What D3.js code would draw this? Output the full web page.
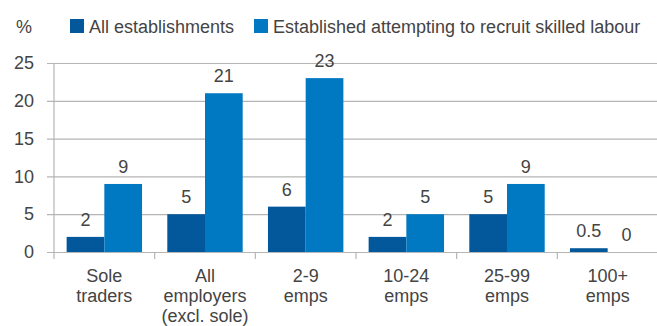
<!DOCTYPE html>
<html>
<head>
<meta charset="utf-8">
<script src="https://cdn.jsdelivr.net/npm/d3@7/dist/d3.min.js"></script>
<style>
  html, body { margin: 0; padding: 0; background: #fff; }
  svg { display: block; font-family: "Liberation Sans", Arial, sans-serif; }
</style>
</head>
<body>
<svg id="chart" width="657" height="326"></svg>
<script>
// Share of establishments, by size band (%)
const categories = [
  ["Sole", "traders"],
  ["All", "employers", "(excl. sole)"],
  ["2-9", "emps"],
  ["10-24", "emps"],
  ["25-99", "emps"],
  ["100+", "emps"]
];
const seriesNames = ["All establishments", "Established attempting to recruit skilled labour"];
const allEstablishments = [2, 5, 6, 2, 5, 0.5];
const recruitingSkilled = [9, 21, 23, 5, 9, 0];
const valueLabels = [
  ["2", "5", "6", "2", "5", "0.5"],
  ["9", "21", "23", "5", "9", "0"]
];
const yTicks = [0, 5, 10, 15, 20, 25];
const colors = ["#03589b", "#0079c2"];

(function () {
  const svg = d3.select("#chart");
  const textColor = "#444444";
  const fontSize = 18;

  const plotLeft = 54, plotRight = 658, plotTop = 63, plotBottom = 252;

  const x0 = d3.scaleBand()
    .domain(d3.range(categories.length))
    .range([plotLeft, plotRight])
    .paddingInner(0)
    .paddingOuter(0);

  const x1 = d3.scaleBand()
    .domain([0, 1])
    .range([0, x0.bandwidth()])
    .paddingInner(0)
    .paddingOuter(0.335);

  const y = d3.scaleLinear().domain([0, 25]).range([plotBottom, plotTop]);

  // Horizontal gridlines with left ticks
  const yAxis = d3.axisLeft(y)
    .tickValues(yTicks)
    .tickSize(-(657 - plotLeft))
    .tickSizeOuter(0);

  const gy = svg.append("g")
    .attr("transform", `translate(${plotLeft},0)`)
    .call(yAxis);
  gy.select(".domain").remove();
  gy.selectAll(".tick line")
    .attr("x1", -7)
    .attr("stroke", "#b5b5b5")
    .attr("stroke-width", 1.2);
  gy.selectAll(".tick text")
    .attr("fill", textColor)
    .attr("font-size", fontSize)
    .attr("font-family", "Liberation Sans, Arial, sans-serif")
    .attr("text-anchor", "end")
    .attr("x", -20);

  // Vertical axis line
  svg.append("line")
    .attr("x1", plotLeft).attr("x2", plotLeft)
    .attr("y1", plotTop).attr("y2", plotBottom + 7)
    .attr("stroke", "#b5b5b5")
    .attr("stroke-width", 1.2);

  // Category separator ticks
  svg.append("g")
    .selectAll("line")
    .data(d3.range(1, categories.length))
    .join("line")
    .attr("x1", d => x0(d)).attr("x2", d => x0(d))
    .attr("y1", plotBottom).attr("y2", plotBottom + 7)
    .attr("stroke", "#b5b5b5")
    .attr("stroke-width", 1.2);

  // Bars
  const series = [allEstablishments, recruitingSkilled];
  const groups = svg.append("g")
    .selectAll("g")
    .data(categories.map((c, i) => i))
    .join("g")
    .attr("transform", i => `translate(${x0(i)},0)`);

  const cells = i => series.map((s, k) => ({ k, v: s[i], label: valueLabels[k][i] }));

  groups.selectAll("rect")
    .data(cells)
    .join("rect")
    .attr("x", d => x1(d.k))
    .attr("width", x1.bandwidth())
    .attr("y", d => y(d.v))
    .attr("height", d => y(0) - y(d.v))
    .attr("fill", d => colors[d.k]);

  groups.selectAll("text.value")
    .data(cells)
    .join("text")
    .attr("class", "value")
    .attr("x", d => x1(d.k) + x1.bandwidth() / 2)
    .attr("y", d => y(d.v) - 11)
    .attr("text-anchor", "middle")
    .attr("fill", textColor)
    .attr("font-size", fontSize)
    .text(d => d.label);

  // Category labels
  svg.append("g")
    .selectAll("text")
    .data(categories)
    .join("text")
    .attr("y", 282)
    .attr("text-anchor", "middle")
    .attr("fill", textColor)
    .attr("font-size", fontSize)
    .each(function (lines, i) {
      const cx = x0(i) + x0.bandwidth() / 2;
      d3.select(this).selectAll("tspan")
        .data(lines)
        .join("tspan")
        .attr("x", cx)
        .attr("dy", (d, j) => j === 0 ? 0 : 20)
        .text(d => d);
    });

  // Unit label
  svg.append("text")
    .attr("x", 16).attr("y", 33)
    .attr("fill", textColor)
    .attr("font-size", fontSize)
    .text("%");

  // Legend
  const legendX = [70, 254];
  const legend = svg.append("g")
    .selectAll("g")
    .data(seriesNames)
    .join("g")
    .attr("transform", (d, i) => `translate(${legendX[i]},19)`);
  legend.append("rect")
    .attr("width", 14).attr("height", 14)
    .attr("fill", (d, i) => colors[i]);
  legend.append("text")
    .attr("x", 19).attr("y", 14)
    .attr("fill", textColor)
    .attr("font-size", fontSize)
    .text(d => d);
})();
</script>
</body>
</html>
